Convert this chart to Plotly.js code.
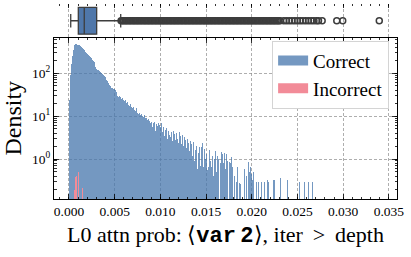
<!DOCTYPE html>
<html><head><meta charset="utf-8">
<script src="https://cdn.plot.ly/plotly-3.0.1.min.js"></script>
<style>html,body{margin:0;padding:0;background:#fff}#c{width:411px;height:257px}</style>
</head><body><div id="c"></div>
<script>
// Histogram bins (Correct), width 0.0001 starting at 0
const binStart = 0;
const binWidth = 0.0001;
const correctDensity = [
 24, 90, 160, 250, 340, 400, 440, 470, 465, 455,
 450, 440, 420, 400, 380, 360, 350, 330, 315, 300,
 280, 262, 250, 235, 220, 205, 190, 180, 160, 140,
 125, 120, 115, 110, 107, 100, 95, 90, 85, 80,
 74, 69, 64, 58, 54, 50, 46, 44, 43, 42,
 40, 36, 33, 30, 28, 30, 27, 25, 26, 23,
 22, 24, 20, 19, 21, 18, 17, 19, 16, 15,
 16, 14, 13, 15, 12, 13, 11, 12, 10.5, 11,
 10, 9.5, 10.5, 8.8, 9, 8, 8.5, 7.5, 7.8, 7,
 7.4, 5.5, 6.8, 7.2, 4.5, 6.5, 5.8, 7, 4.3, 6.2,
 5.5, 6.8, 4.2, 5.6, 3.4, 4.8, 5.2, 3.0, 4.4, 3.6,
 5.0, 3.2, 4.3, 2.6, 4.6, 3.8, 2.8, 4.0, 3.0, 2.4,
 4.2, 2.6, 3.4, 2.2, 3.6, 2.0, 3.2, 2.8, 1.8, 3.0,
 2.4, 1.5, 2.6, 1.9, 2.2, 1.2, 2.5, 0.9, 1.6, 2.0,
 0.6, 1.4, 1.9, 0.7, 1.93, 0.72, 2.3, 0.64, 1.7, 1.0,
 1.3, 0.55, 0.65, 1.6, 0.9, 0.65, null, 1.2, 0.4, 1.0,
 1.5, 0.5, 1.2, 1.0, null, 0.8, 1.45, 1.3, 1.1, 0.8,
 1.4, 0.6, 1.3, 0.9, null, 0.85, 0.8, 1.1, 0.66, null,
 0.7, 0.4, null, 0.3, 0.65, null, 0.28, 0.26, null, null,
 null, 0.3, 0.6, null, 0.4, null, 0.87, 0.5, 0.66, 0.45,
 0.32, 0.5, null, 0.3, null, 0.3, null, 0.3, null, null,
 0.3, null, null, 0.3, null, null, null, 0.32, 0.3, null,
 null, null, null, 0.32, 0.32, null, null, null, null, null,
 null, 0.37, null, null, null, null, null, null, null, 0.32,
 null, null, null, null, null, null, null, null, null, 0.37,
 null, null, 0.3, null, null, null, null, 0.3, null, null,
 null, null, 0.3, null, null, null, 0.3, null, null, null
];
// Incorrect histogram bars
const incorrectCenters = [0.00060, 0.00073, 0.00085, 0.00102, 0.00146];
const incorrectDensity = [0.19, 0.39, 0.41, 0.50, 0.215];
const incorrectWidth = 0.00012;

// Box plot summary (all samples)
const boxQ1 = 0.00102, boxMedian = 0.00167, boxQ3 = 0.00303;
const boxLow = 0.00019, boxHigh = 0.00566;
const outliers = [
 0.0057,0.00585,0.006,0.00615,0.0063,0.00645,0.0066,0.00675,0.0069,0.00705,
 0.0072,0.00735,0.0075,0.00765,0.0078,0.00795,0.0081,0.00825,0.0084,0.00855,
 0.0087,0.00885,0.009,0.00915,0.0093,0.00945,0.0096,0.00975,0.0099,0.01005,
 0.0102,0.01035,0.0105,0.01065,0.0108,0.01095,0.0111,0.01125,0.0114,0.01155,
 0.0117,0.01185,0.012,0.01215,0.0123,0.01245,0.0126,0.01275,0.0129,0.01305,
 0.0132,0.01335,0.0135,0.01365,0.0138,0.01395,0.0141,0.01425,0.0144,0.01455,
 0.0147,0.01485,0.015,0.01515,0.0153,0.01545,0.0156,0.01575,0.0159,0.01605,
 0.0162,0.01635,0.0165,0.01665,0.0168,0.01695,0.0171,0.01725,0.0174,0.01755,
 0.0177,0.01785,0.018,0.01815,0.0183,0.01845,0.0186,0.01875,0.0189,0.01905,
 0.0192,0.01935,0.0195,0.01965,0.0198,0.01995,0.0201,0.02025,0.0204,0.02055,
 0.0207,0.02085,0.021,0.02115,0.0213,0.02145,0.0216,0.02175,0.0219,0.02205,
 0.0222,0.02235,0.0225,0.02265,0.0228,0.02295,0.0231,
 0.0235,0.0238,0.0241,0.0244,0.0247,0.0250,0.0253,0.0256,0.0259,0.0262,
 0.0265,0.0268,0.0271,0.0273,0.0277,0.0293,0.02995,0.03395
];

const xTickVals = [0, 0.005, 0.010, 0.015, 0.020, 0.025, 0.030, 0.035];
const yTickVals = [1, 10, 100];
const yTickText = ['10<sup>0</sup>', '10<sup>1</sup>', '10<sup>2</sup>'];

const serif = 'Liberation Serif, Times New Roman, serif';
const blue = 'rgb(70,118,172)';
const blueSolid = 'rgb(116,152,193)';
const pink = 'rgb(242,139,152)';
const boxLine = '#3d3d3d';
const gridCol = '#8c8c8c';
const gridDash = '3px,2px';

const binCenters = correctDensity.map((_, i) => binStart + (i + 0.5) * binWidth);

const traces = [
  {type: 'bar', x: binCenters, y: correctDensity, width: binWidth,
   marker: {color: blue, line: {width: 0}}, opacity: 0.75,
   showlegend: false, xaxis: 'x', yaxis: 'y', hoverinfo: 'skip'},
  {type: 'bar', x: incorrectCenters, y: incorrectDensity, width: incorrectWidth,
   marker: {color: pink, line: {width: 0}},
   showlegend: false, xaxis: 'x', yaxis: 'y', hoverinfo: 'skip'},
  {type: 'scatter', mode: 'lines', x: [null], y: [null], name: 'Correct',
   line: {color: blueSolid, width: 10}, xaxis: 'x', yaxis: 'y'},
  {type: 'scatter', mode: 'lines', x: [null], y: [null], name: 'Incorrect',
   line: {color: pink, width: 10}, xaxis: 'x', yaxis: 'y'},
  {type: 'box', orientation: 'h', y: [0], q1: [boxQ1], median: [boxMedian], q3: [boxQ3],
   lowerfence: [boxLow], upperfence: [boxHigh], boxpoints: false, width: 0.8,
   whiskerwidth: 0.5, fillcolor: '#4f77aa', line: {color: boxLine, width: 1.3},
   showlegend: false, xaxis: 'x2', yaxis: 'y2', hoverinfo: 'skip'},
  {type: 'scatter', mode: 'markers', x: outliers, y: outliers.map(() => 0),
   marker: {symbol: 'circle-open', size: 6, color: boxLine, line: {width: 1.5, color: boxLine}},
   showlegend: false, xaxis: 'x2', yaxis: 'y2', hoverinfo: 'skip'}
];

const xr = [-0.00164, 0.03589];
const layout = {
  width: 411, height: 257,
  margin: {l: 54, r: 14, t: 4, b: 58},
  paper_bgcolor: '#fff', plot_bgcolor: 'rgba(0,0,0,0)',
  barmode: 'overlay', bargap: 0,
  font: {family: serif, color: '#000', size: 13},
  xaxis: {
    domain: [0, 1], anchor: 'y', range: xr, tickvals: xTickVals, tickformat: '.3f',
    ticks: 'inside', ticklen: 5, tickwidth: 0.8, tickcolor: '#000',
    showline: true, linecolor: '#000', linewidth: 1, mirror: 'allticks',
    showgrid: true, gridcolor: gridCol, griddash: gridDash, gridwidth: 0.7,
    zeroline: false, tickfont: {family: serif, size: 13.5},
    minor: {dtick: 0.001, tick0: 0, ticks: 'inside', ticklen: 2.5, tickcolor: '#000', showgrid: false},
    title: {text: 'L0 attn prob: \u27E8<span style="font-family:Liberation Mono,DejaVu Sans Mono,monospace;font-weight:bold">var\u20092</span>\u27E9, iter \u2009&gt;\u2009 depth',
            font: {family: serif, size: 22}, standoff: 8}
  },
  yaxis: {
    domain: [0, 0.828], anchor: 'x', type: 'log', range: [-0.93, 2.826],
    tickvals: yTickVals, ticktext: yTickText,
    ticks: 'inside', ticklen: 5, tickwidth: 0.8, tickcolor: '#000',
    showline: true, linecolor: '#000', linewidth: 1, mirror: 'allticks',
    showgrid: true, gridcolor: gridCol, griddash: gridDash, gridwidth: 0.7,
    zeroline: false, tickfont: {family: serif, size: 13.5},
    minor: {dtick: 'D1', ticks: 'inside', ticklen: 2.5, tickcolor: '#000', showgrid: false},
    title: {text: 'Density', font: {family: serif, size: 24}, standoff: 6}
  },
  xaxis2: {
    domain: [0, 1], anchor: 'y2', range: xr, tickvals: xTickVals, side: 'top',
    showticklabels: false, ticks: 'inside', ticklen: 4, tickwidth: 0.8, tickcolor: '#000',
    showline: false, showgrid: true, gridcolor: gridCol, griddash: gridDash, gridwidth: 0.7,
    zeroline: false,
    minor: {dtick: 0.001, tick0: 0, ticks: 'inside', ticklen: 2, tickcolor: '#000', showgrid: false}
  },
  yaxis2: {
    domain: [0.828, 1], anchor: 'x2', range: [-0.5, 0.5], visible: false, fixedrange: true
  },
  legend: {
    x: 0.977, xanchor: 'right', y: 0.812, yanchor: 'top',
    bgcolor: '#fff', bordercolor: '#d4d4d4', borderwidth: 1,
    font: {family: serif, size: 19}, tracegroupgap: 0
  },
  showlegend: true
};

Plotly.newPlot('c', traces, layout, {staticPlot: true, displayModeBar: false});
</script>
</body></html>
